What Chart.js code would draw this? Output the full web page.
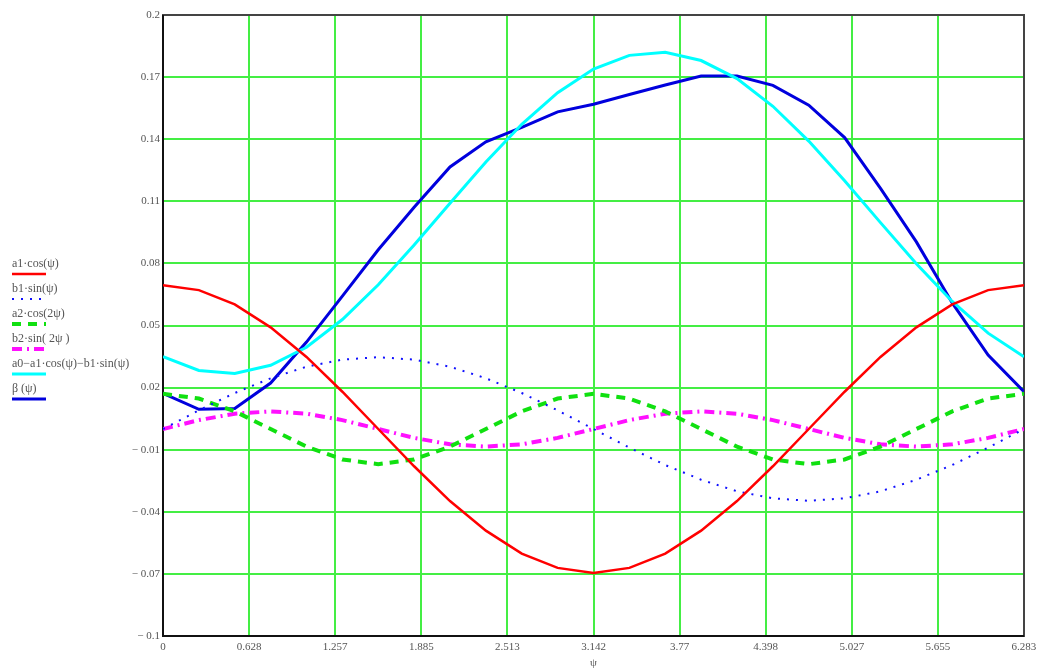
<!DOCTYPE html>
<html>
<head>
<meta charset="utf-8">
<script src="https://cdn.jsdelivr.net/npm/chart.js@4"></script>
<style>
  html, body { margin: 0; padding: 0; background: #fff; }
  #wrap { width: 1045px; height: 668px; position: relative; }
</style>
</head>
<body>
<div id="wrap"><canvas id="fourierChart"></canvas></div>
<script>
// psi samples (15 degree steps)
const psi = [
  0, 0.2618, 0.5236, 0.7854, 1.0472, 1.309, 1.5708, 1.8326, 2.0944, 2.3562,
  2.618, 2.8798, 3.1416, 3.4034, 3.6652, 3.927, 4.1888, 4.4506, 4.7124,
  4.9742, 5.236, 5.4978, 5.7596, 6.0214, 6.2832,
];

const a1cos = [
  0.0695, 0.0671, 0.0602, 0.0491, 0.0348, 0.018, 0, -0.018, -0.0348, -0.0491,
  -0.0602, -0.0671, -0.0695, -0.0671, -0.0602, -0.0491, -0.0348, -0.018, 0,
  0.018, 0.0348, 0.0491, 0.0602, 0.0671, 0.0695,
];
const b1sin = [
  0, 0.009, 0.0174, 0.0245, 0.0301, 0.0335, 0.0347, 0.0335, 0.0301, 0.0245,
  0.0174, 0.009, 0, -0.009, -0.0174, -0.0245, -0.0301, -0.0335, -0.0347,
  -0.0335, -0.0301, -0.0245, -0.0174, -0.009, 0,
];
const a2cos2 = [
  0.017, 0.0147, 0.0085, 0, -0.0085, -0.0147, -0.017, -0.0147, -0.0085, 0,
  0.0085, 0.0147, 0.017, 0.0147, 0.0085, 0, -0.0085, -0.0147, -0.017,
  -0.0147, -0.0085, 0, 0.0085, 0.0147, 0.017,
];
const b2sin2 = [
  0, 0.0043, 0.0074, 0.0085, 0.0074, 0.0043, 0, -0.0043, -0.0074, -0.0085,
  -0.0074, -0.0043, 0, 0.0043, 0.0074, 0.0085, 0.0074, 0.0043, 0, -0.0043,
  -0.0074, -0.0085, -0.0074, -0.0043, 0,
];
const firstHarmonic = [
  0.0349, 0.0283, 0.0268, 0.0308, 0.0395, 0.0529, 0.0697, 0.0889, 0.1091,
  0.129, 0.1472, 0.1625, 0.1739, 0.1805, 0.182, 0.178, 0.1693, 0.1559,
  0.1391, 0.1199, 0.0997, 0.0798, 0.0616, 0.0463, 0.0349,
];
const beta = [
  0.0172, 0.0095, 0.0099, 0.0222, 0.042, 0.0642, 0.0866, 0.1071, 0.1266,
  0.1387, 0.1457, 0.1532, 0.1569, 0.1616, 0.1662, 0.1705, 0.1705, 0.166,
  0.1564, 0.1408, 0.1162, 0.0904, 0.0609, 0.0357, 0.018,
];

const xTicks = [0, 0.628, 1.257, 1.885, 2.513, 3.142, 3.77, 4.398, 5.027, 5.655, 6.283];
const yTicks = [-0.1, -0.07, -0.04, -0.01, 0.02, 0.05, 0.08, 0.11, 0.14, 0.17, 0.2];

const seriesLabels = [
  "a1·cos(ψ)",
  "b1·sin(ψ)",
  "a2·cos(2ψ)",
  "b2·sin( 2ψ )",
  "a0−a1·cos(ψ)−b1·sin(ψ)",
  "β (ψ)",
];

function pts(ys) {
  return ys.map((y, i) => ({ x: psi[i], y: y }));
}

const serif = "'Liberation Serif', 'DejaVu Serif', serif";

// frame round the plot area
const frame = {
  id: "frame",
  beforeDatasetsDraw(chart) {
    const a = chart.chartArea;
    const c = chart.ctx;
    c.save();
    c.strokeStyle = "#444";
    c.lineWidth = 2;
    c.strokeRect(a.left, a.top, a.right - a.left, a.bottom - a.top);
    c.strokeStyle = "#111";
    c.beginPath();
    c.moveTo(a.left, a.top);
    c.lineTo(a.left, a.bottom);
    c.lineTo(a.right, a.bottom);
    c.stroke();
    c.restore();
  },
};

// legend on the left: text above, line sample below
const sideLegend = {
  id: "sideLegend",
  afterDraw(chart) {
    const c = chart.ctx;
    c.save();
    c.font = "12px " + serif;
    c.textBaseline = "middle";
    c.fillStyle = "#555";
    chart.data.datasets.forEach((ds, i) => {
      const ty = 264 + i * 25;
      c.fillText(ds.label, 12, ty);
      c.strokeStyle = ds.borderColor;
      c.lineWidth = ds.borderWidth;
      c.setLineDash(ds.borderDash || []);
      c.beginPath();
      c.moveTo(12, ty + 10);
      c.lineTo(46, ty + 10);
      c.stroke();
    });
    c.restore();
  },
};

const ctx = document.getElementById("fourierChart").getContext("2d");

new Chart(ctx, {
  type: "line",
  data: {
    datasets: [
      {
        label: seriesLabels[0],
        data: pts(a1cos),
        borderColor: "#ff0000",
        borderWidth: 2.5,
      },
      {
        label: seriesLabels[1],
        data: pts(b1sin),
        borderColor: "#1010ff",
        borderWidth: 2,
        borderDash: [2, 7],
      },
      {
        label: seriesLabels[2],
        data: pts(a2cos2),
        borderColor: "#10e010",
        borderWidth: 4,
        borderDash: [9, 7],
      },
      {
        label: seriesLabels[3],
        data: pts(b2sin2),
        borderColor: "#ff10ff",
        borderWidth: 4,
        borderDash: [10, 5, 2, 5],
      },
      {
        label: seriesLabels[4],
        data: pts(firstHarmonic),
        borderColor: "#00ffff",
        borderWidth: 3,
      },
      {
        label: seriesLabels[5],
        data: pts(beta),
        borderColor: "#0000dd",
        borderWidth: 3,
      },
    ],
  },
  options: {
    responsive: true,
    maintainAspectRatio: false,
    animation: false,
    devicePixelRatio: 1,
    layout: {
      padding: { left: 0, top: 15, right: 21, bottom: 0 },
    },
    elements: {
      point: { radius: 0 },
      line: { tension: 0, fill: false },
    },
    plugins: {
      legend: { display: false },
      tooltip: { enabled: false },
    },
    scales: {
      x: {
        type: "linear",
        min: 0,
        max: 6.2832,
        afterBuildTicks: (axis) => {
          axis.ticks = xTicks.map((v) => ({ value: v }));
        },
        afterFit: (axis) => {
          axis.height = 32;
        },
        ticks: {
          callback: (v) => String(v),
          color: "#555",
          font: { family: serif, size: 11 },
          padding: 5,
          maxRotation: 0,
          autoSkip: false,
        },
        grid: {
          color: "#44ee44",
          lineWidth: 2,
          drawTicks: false,
        },
        border: { display: false },
        title: {
          display: true,
          text: "ψ",
          color: "#555",
          font: { family: serif, size: 11 },
          padding: { top: 0, bottom: -2 },
        },
      },
      y: {
        min: -0.1,
        max: 0.2,
        afterBuildTicks: (axis) => {
          axis.ticks = yTicks.map((v) => ({ value: v }));
        },
        afterFit: (axis) => {
          axis.width = 163;
        },
        ticks: {
          callback: (v) => (v < 0 ? "− " + String(Math.abs(v)) : String(v)),
          color: "#555",
          font: { family: serif, size: 11 },
          padding: 3,
          autoSkip: false,
        },
        grid: {
          color: "#44ee44",
          lineWidth: 2,
          drawTicks: false,
        },
        border: { display: false },
      },
    },
  },
  plugins: [frame, sideLegend],
});
</script>
</body>
</html>
